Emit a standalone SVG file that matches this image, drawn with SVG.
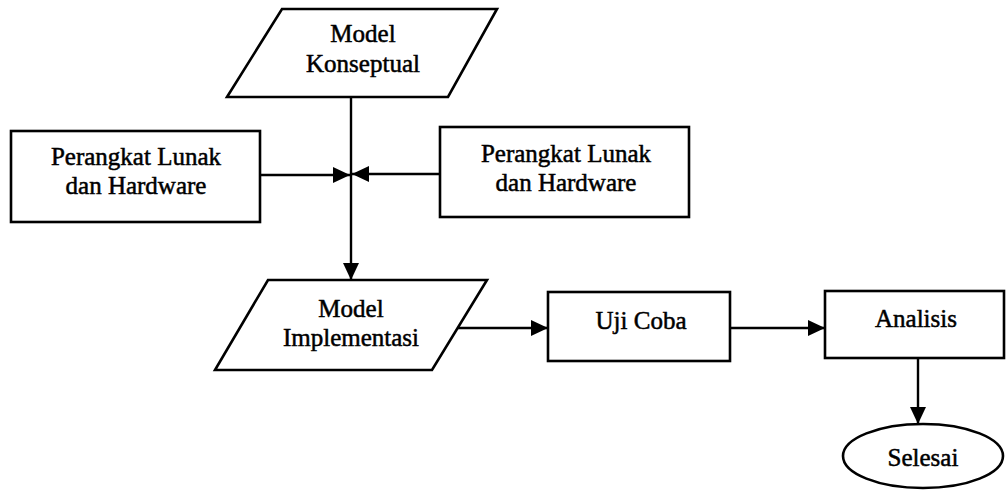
<svg xmlns="http://www.w3.org/2000/svg" width="1006" height="491" viewBox="0 0 1006 491">
  <defs>
    <marker id="arrow" markerUnits="userSpaceOnUse" markerWidth="18" markerHeight="16" refX="17" refY="8" orient="auto">
      <path d="M0,0 L17,8 L0,16 Z" fill="#000"/>
    </marker>
    <style>
      .shape { fill: #fff; stroke: #000; stroke-width: 2.6; stroke-linejoin: miter; }
      .edge { fill: none; stroke: #000; stroke-width: 2.4; }
      text { font-family: "Liberation Serif", "Times New Roman", serif; font-size: 25px; fill: #000; text-anchor: middle; stroke: #000; stroke-width: 0.5; }
    </style>
  </defs>
  <rect width="1006" height="491" fill="#fff"/>

  <g id="connectors">
    <line class="edge" x1="351" y1="97" x2="351" y2="280" marker-end="url(#arrow)"/>
    <line class="edge" x1="260" y1="175" x2="350" y2="175" marker-end="url(#arrow)"/>
    <line class="edge" x1="440" y1="174" x2="352" y2="174" marker-end="url(#arrow)"/>
    <line class="edge" x1="457" y1="328" x2="548" y2="328" marker-end="url(#arrow)"/>
    <line class="edge" x1="730" y1="328" x2="825" y2="328" marker-end="url(#arrow)"/>
    <line class="edge" x1="918" y1="358" x2="918" y2="424" marker-end="url(#arrow)"/>
  </g>

  <g id="model-konseptual">
    <polygon class="shape" points="282,9 497,9 448,97 227,97"/>
    <text x="363" y="42">Model</text>
    <text x="363" y="72">Konseptual</text>
  </g>

  <g id="perangkat-kiri">
    <rect class="shape" x="11" y="131" width="249" height="91"/>
    <text x="136" y="165">Perangkat Lunak</text>
    <text x="136" y="194">dan Hardware</text>
  </g>

  <g id="perangkat-kanan">
    <rect class="shape" x="440" y="127" width="249" height="90"/>
    <text x="566" y="162">Perangkat Lunak</text>
    <text x="566" y="191">dan Hardware</text>
  </g>

  <g id="model-implementasi">
    <polygon class="shape" points="268,280 487,280 432,370 215,370"/>
    <text x="351" y="317">Model</text>
    <text x="351" y="346">Implementasi</text>
  </g>

  <g id="uji-coba">
    <rect class="shape" x="548" y="292" width="182" height="69"/>
    <text x="641" y="329">Uji Coba</text>
  </g>

  <g id="analisis">
    <rect class="shape" x="825" y="291" width="179" height="67"/>
    <text x="916" y="327">Analisis</text>
  </g>

  <g id="selesai">
    <ellipse class="shape" cx="923" cy="456" rx="80" ry="32"/>
    <text x="923" y="466">Selesai</text>
  </g>
</svg>
